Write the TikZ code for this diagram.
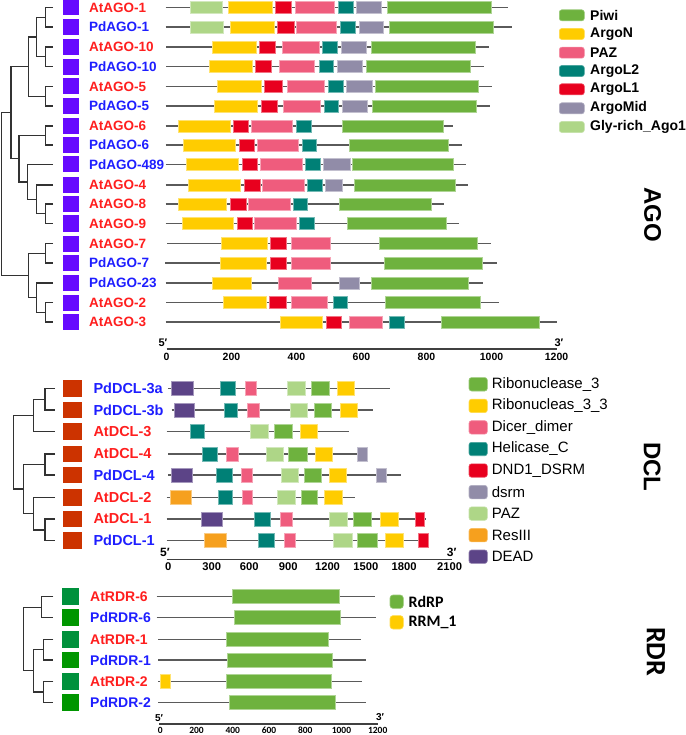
\documentclass[tikz,border=0pt]{standalone}
\usepackage{fontspec}
\setmainfont{Liberation Sans}
\newfontfamily\calib{Carlito}
\definecolor{cPiwi}{RGB}{110,178,62}
\definecolor{cArgoN}{RGB}{255,204,0}
\definecolor{cPAZ}{RGB}{239,92,125}
\definecolor{cL2}{RGB}{0,128,118}
\definecolor{cL1}{RGB}{232,0,30}
\definecolor{cMid}{RGB}{145,140,168}
\definecolor{cGly}{RGB}{174,214,135}
\definecolor{cRes}{RGB}{246,160,30}
\definecolor{cDEAD}{RGB}{92,68,135}
\definecolor{atred}{RGB}{255,30,30}
\definecolor{pdblue}{RGB}{30,30,255}
\definecolor{agosq}{RGB}{102,10,255}
\definecolor{dclsq}{RGB}{204,51,0}
\definecolor{rdrAt}{RGB}{0,145,60}
\definecolor{rdrPd}{RGB}{0,150,0}
\definecolor{treec}{RGB}{50,50,50}
\definecolor{linec}{RGB}{90,90,90}
\newcommand{\hh}{6}
\newcommand{\prot}[4]{%
  \draw[pline] (#2,#1) -- (#3,#1);
  \foreach \a/\b/\c in {#4} {\filldraw[fill=\c, draw=\c!55!white, line width=0.6pt] (\a,#1-\hh) rectangle (\b,#1+\hh);}%
}
\begin{document}
\begin{tikzpicture}[x=1pt,y=-1pt,
  pline/.style={draw=linec, line width=1.3pt},
  tree/.style={draw=treec, line width=1.3pt},
  axisline/.style={draw=black!75, line width=1.2pt},
  glab/.style={anchor=west, inner sep=0pt, font=\fontsize{13.5}{15}\bfseries\selectfont},
  dlab/.style={anchor=west, inner sep=0pt, font=\fontsize{14.5}{16}\bfseries\selectfont},
  rlab/.style={anchor=west, inner sep=0pt, font=\fontsize{14}{16}\bfseries\selectfont},
  agosqs/.style={fill=agosq, minimum width=16.3pt, minimum height=16pt, inner sep=0pt},
  dclsqs/.style={fill=dclsq, minimum width=18.3pt, minimum height=16.7pt, inner sep=0pt},
  rdrsqs/.style={minimum width=17.6pt, minimum height=16.7pt, inner sep=0pt},
  tick/.style={inner sep=0pt, font=\fontsize{10.5}{12}\bfseries\selectfont},
  legbox/.style={rounded corners=2.5pt, draw=#1!70!white, fill=#1, line width=0.6pt},
  legtxt/.style={anchor=west, inner sep=0pt, font=\fontsize{14}{16}\bfseries\selectfont},
  legtxtd/.style={anchor=west, inner sep=0pt, font=\fontsize{15}{17}\selectfont},
  legtxtr/.style={anchor=west, inner sep=0pt, font=\fontsize{16}{18}\calib\bfseries\selectfont},
  sect/.style={rotate=-90, inner sep=0pt, font=\fontsize{24}{26}\bfseries\selectfont}
]
\useasboundingbox (0,0) rectangle (685,735);

% ================= AGO =================
% tree
\draw[tree] (53,7.5) -| (45.7,27) -- (53,27);
\draw[tree] (53,47) -| (45.7,66.7) -- (53,66.7);
\draw[tree] (45.7,17.25) -| (36.7,56.85) -- (45.7,56.85);
\draw[tree] (53,86.5) -| (45.7,106) -- (53,106);
\draw[tree] (36.7,37.05) -| (28.3,96.25) -- (45.7,96.25);
\draw[tree] (53,126) -| (45.7,145) -- (53,145);
\draw[tree] (53,204) -| (45.7,223.5) -- (53,223.5);
\draw[tree] (53,185) -| (36.7,213.75) -- (45.7,213.75);
\draw[tree] (53,164.5) -| (27.5,199.4) -- (36.7,199.4);
\draw[tree] (45.7,135.5) -| (19,181.95) -- (27.5,181.95);
\draw[tree] (28.3,66.65) -| (11,158.7) -- (19,158.7);
\draw[tree] (53,243.5) -| (45.7,263) -- (53,263);
\draw[tree] (53,302.5) -| (45.7,322) -- (53,322);
\draw[tree] (53,283) -| (36.7,312.25) -- (45.7,312.25);
\draw[tree] (45.7,253.25) -| (28.3,297.6) -- (36.7,297.6);
\draw[tree] (11,112.7) -| (1.7,275.4) -- (28.3,275.4);

% squares and labels
\foreach \y/\nm/\lab/\tc in {7.5/a1/AtAGO-1/atred, 27/a2/PdAGO-1/pdblue, 47/a3/AtAGO-10/atred, 66.7/a4/PdAGO-10/pdblue, 86.5/a5/AtAGO-5/atred, 106/a6/PdAGO-5/pdblue, 126/a7/AtAGO-6/atred, 145/a8/PdAGO-6/pdblue, 164.5/a9/PdAGO-489/pdblue, 185/a10/AtAGO-4/atred, 204/a11/AtAGO-8/atred, 223.5/a12/AtAGO-9/atred, 243.5/a13/AtAGO-7/atred, 263/a14/PdAGO-7/pdblue, 283/a15/PdAGO-23/pdblue, 302.5/a16/AtAGO-2/atred, 322/a17/AtAGO-3/atred}
{
  \node[agosqs] (sq\nm) at (71.2,\y) {};
  \node[glab, text=\tc] (lb\nm) at (89,\y) {\lab};
}

% proteins
\prot{7.5}{165.7}{508}{190.3/222/cGly, 228/272/cArgoN, 275.3/291.3/cL1, 295/334.3/cPAZ, 338/353/cL2, 356.7/381/cMid, 387/491/cPiwi}
\prot{27}{165.7}{511.7}{190/223.7/cGly, 230.7/274.3/cArgoN, 277.7/294/cL1, 296/336.7/cPAZ, 340.3/355.3/cL2, 359/383/cMid, 389.7/493.3/cPiwi}
\prot{47}{166.3}{489.3}{212.3/256/cArgoN, 259.7/275.7/cL1, 282/319/cPAZ, 322.3/337.3/cL2, 341/366.3/cMid, 371/475/cPiwi}
\prot{66.7}{166.3}{484.3}{209/252.3/cArgoN, 255.7/271.7/cL1, 279.3/314.3/cPAZ, 319/333.3/cL2, 337/362/cMid, 366.7/470.3/cPiwi}
\prot{86.5}{165.7}{492}{217.7/261/cArgoN, 264.7/282.3/cL1, 287/324.7/cPAZ, 328.3/343/cL2, 346.3/372/cMid, 375/478.7/cPiwi}
\prot{106}{165.7}{490}{214/257.7/cArgoN, 261/277/cL1, 283.7/320.7/cPAZ, 324/338.7/cL2, 342.3/367/cMid, 372.7/476/cPiwi}
\prot{126}{165.7}{453.3}{178.3/230/cArgoN, 233.7/248.7/cL1, 251.7/292/cPAZ, 296/311/cL2, 342.7/443.7/cPiwi}
\prot{145}{165.7}{462}{183.3/235/cArgoN, 239/254.7/cL1, 257/298.3/cPAZ, 302/316.3/cL2, 349/448.7/cPiwi}
\prot{164.5}{165.7}{465.7}{186/238/cArgoN, 242.3/257.7/cL1, 260/302.3/cPAZ, 305.7/320.3/cL2, 323.3/350/cMid, 352.7/453/cPiwi}
\prot{185}{165.7}{468.3}{188/240/cArgoN, 244.7/260/cL1, 262/304.3/cPAZ, 307.7/322.3/cL2, 325.3/342/cMid, 354.3/455/cPiwi}
\prot{204}{165.7}{444.3}{178/226.3/cArgoN, 230.3/246/cL1, 248.3/290/cPAZ, 293.3/307.7/cL2, 339.7/431.7/cPiwi}
\prot{223.5}{165.7}{459.3}{182/233/cArgoN, 237/252.3/cL1, 254.7/296/cPAZ, 299.3/314/cL2, 347/446.3/cPiwi}
\prot{243.5}{167}{490.7}{221/267/cArgoN, 270.3/286.3/cL1, 291/330/cPAZ, 379.7/477/cPiwi}
\prot{263}{165}{496.7}{220/266.7/cArgoN, 270.3/286/cL1, 291/330/cPAZ, 384/482.7/cPiwi}
\prot{283}{165.7}{483.3}{212/251.7/cArgoN, 278.3/311.7/cPAZ, 339.3/359.3/cMid, 371/468/cPiwi}
\prot{302.5}{166.3}{498.7}{223.3/266/cArgoN, 269.7/286/cL1, 291/327/cPAZ, 333/347.7/cL2, 385/480.7/cPiwi}
\prot{322}{165.7}{556.7}{280/322/cArgoN, 326/341.3/cL1, 349/382.7/cPAZ, 389/404/cL2, 441.3/539.3/cPiwi}

% axis
\draw[axisline] (166.5,349) -- (556.5,349);
\node[tick, font=\fontsize{11}{12}\bfseries\selectfont] (ago5) at (163,342.5) {5′};
\node[tick, font=\fontsize{11}{12}\bfseries\selectfont] (ago3) at (559,342.5) {3′};
\foreach \k/\v in {0/0,1/200,2/400,3/600,4/800,5/1000,6/1200}
  \node[tick] (agot\k) at (166.5+65*\k,356.5) {\v};

% legend
\foreach \y/\col/\t [count=\i] in {15.3/cPiwi/Piwi, 34/cArgoN/ArgoN, 52.7/cPAZ/PAZ, 71/cL2/ArgoL2, 89.3/cL1/ArgoL1, 108.3/cMid/ArgoMid, 127/cGly/Gly-rich\_Ago1}
{
  \draw[legbox=\col] (559.3,\y-5.5) rectangle (584.3,\y+5.5);
  \node[legtxt] (agoleg\i) at (590,\y) {\t};
}
\node[sect] (agotitle) at (652.5,215) {AGO};

% ================= DCL =================
\renewcommand{\hh}{7}
\draw[tree] (55,388.3) -| (45,410) -- (55,410);
\draw[tree] (45,399.15) -| (33.3,431.7) -- (55,431.7);
\draw[tree] (55,454) -| (45,475) -- (55,475);
\draw[tree] (55,519) -| (45,540.7) -- (55,540.7);
\draw[tree] (55,497.3) -| (33.3,529.85) -- (45,529.85);
\draw[tree] (45,464.5) -| (23.3,513.6) -- (33.3,513.6);
\draw[tree] (33.3,415.4) -| (13.3,489) -- (23.3,489);

\foreach \y/\nm/\lab/\tc in {388.3/d1/PdDCL-3a/pdblue, 410/d2/PdDCL-3b/pdblue, 431.7/d3/AtDCL-3/atred, 454/d4/AtDCL-4/atred, 475/d5/PdDCL-4/pdblue, 497.3/d6/AtDCL-2/atred, 519/d7/AtDCL-1/atred, 540.7/d8/PdDCL-1/pdblue}
{
  \node[dclsqs] (sq\nm) at (72.5,\y) {};
  \node[dlab, text=\tc] (lb\nm) at (93.3,\y) {\lab};
}

\prot{388.3}{168.3}{390}{171.7/193.3/cDEAD, 220/235/cL2, 245/256/cPAZ, 287.3/305/cGly, 311/329/cPiwi, 337/354.3/cArgoN}
\prot{410}{171.7}{372.7}{174/194/cDEAD, 224.3/237.7/cL2, 247.7/259/cPAZ, 290/307.7/cGly, 314/331.7/cPiwi, 340/357.3/cArgoN}
\prot{431.7}{166.7}{349.3}{190/204/cL2, 250.7/268.3/cGly, 274/292/cPiwi, 300/317.3/cArgoN}
\prot{454}{168.3}{368.3}{202.3/217.7/cL2, 226.3/238/cPAZ, 266.7/283.3/cGly, 288.7/307/cPiwi, 315/332.3/cArgoN, 357.3/367/cMid}
\prot{475}{168.3}{400.7}{171/192.7/cDEAD, 216.7/232/cL2, 241.3/252/cPAZ, 281.3/298/cGly, 304/321.3/cPiwi, 329.3/346.7/cArgoN, 376.7/386/cMid}
\prot{497.3}{166.7}{355}{170/191.7/cRes, 218/232.7/cL2, 242/252.7/cPAZ, 277.3/295.7/cGly, 301.7/317.3/cPiwi, 324/342.7/cArgoN}
\prot{519}{166.7}{426}{201/222.3/cDEAD, 254.7/270/cL2, 280.7/292.3/cPAZ, 329.3/347.7/cGly, 353.3/371.7/cPiwi, 380/398.3/cArgoN, 415/424.3/cL1}
\prot{540.7}{166.7}{429.3}{204.3/226.7/cRes, 258.3/274/cL2, 284.3/295.7/cPAZ, 333.3/352/cGly, 357.3/377.3/cPiwi, 385/403/cArgoN, 418.7/428.3/cL1}

\draw[axisline] (166.7,559.3) -- (451.7,559.3);
\node[tick, font=\fontsize{12}{13}\bfseries\selectfont] (dcl5) at (165,552.3) {5′};
\node[tick, font=\fontsize{12}{13}\bfseries\selectfont] (dcl3) at (451.7,552.3) {3′};
\foreach \x/\v [count=\i] in {168.3/0, 211.7/300, 249.2/600, 288.3/900, 327.5/1200, 365.8/1500, 404.2/1800, 449.7/2100}
  \node[tick, font=\fontsize{11.2}{12}\bfseries\selectfont] (dclt\i) at (\x,567) {\v};

\foreach \y/\col/\t [count=\i] in {384.3/cPiwi/Ribonuclease\_3, 405.9/cArgoN/Ribonucleas\_3\_3, 427.4/cPAZ/Dicer\_dimer, 449/cL2/Helicase\_C, 470.5/cL1/DND1\_DSRM, 492.1/cMid/dsrm, 513.6/cGly/PAZ, 535.2/cRes/ResIII, 556.7/cDEAD/DEAD}
{
  \draw[legbox=\col] (469,\y-6.7) rectangle (487.3,\y+6.7);
  \node[legtxtd] (dclleg\i) at (491.7,\y) {\t};
}
\node[sect] (dcltitle) at (652,467) {DCL};

% ================= RDR =================
\renewcommand{\hh}{7}
\draw[tree] (53.3,596.7) -| (41.7,617.7) -- (53.3,617.7);
\draw[tree] (53.3,639.3) -| (43.3,660) -- (53.3,660);
\draw[tree] (53.3,681.7) -| (43.3,702.3) -- (53.3,702.3);
\draw[tree] (43.3,649.65) -| (33.3,692) -- (43.3,692);
\draw[tree] (41.7,607.2) -| (23.3,670.8) -- (33.3,670.8);

\foreach \y/\nm/\lab/\tc/\sc in {596.7/r1/AtRDR-6/atred/rdrAt, 617.7/r2/PdRDR-6/pdblue/rdrPd, 639.3/r3/AtRDR-1/atred/rdrAt, 660/r4/PdRDR-1/pdblue/rdrPd, 681.7/r5/AtRDR-2/atred/rdrAt, 702.3/r6/PdRDR-2/pdblue/rdrPd}
{
  \node[rdrsqs, fill=\sc] (sq\nm) at (70.5,\y) {};
  \node[rlab, text=\tc] (lb\nm) at (90,\y) {\lab};
}

\prot{596.7}{156.7}{375}{232.7/339/cPiwi}
\prot{617.7}{156.7}{376}{234/340/cPiwi}
\prot{639.3}{158.3}{361}{226.7/328.3/cPiwi}
\prot{660}{158.3}{366}{227.3/332/cPiwi}
\prot{681.7}{158.3}{362.3}{160.7/170.3/cArgoN, 226.7/331.7/cPiwi}
\prot{702.3}{158.3}{366}{229.7/335/cPiwi}

\draw[axisline] (159,724) -- (378,724);
\node[tick, font=\fontsize{10}{11}\bfseries\selectfont] (rdr5) at (159,718) {5′};
\node[tick, font=\fontsize{10}{11}\bfseries\selectfont] (rdr3) at (380,717) {3′};
\foreach \k/\v in {0/0,1/200,2/400,3/600,4/800,5/1000,6/1200}
  \node[tick, font=\fontsize{9.5}{10}\calib\bfseries\selectfont] (rdrt\k) at (160.3+36.23*\k,730.5) {\v};

\foreach \y/\col/\t [count=\i] in {601.7/cPiwi/RdRP, 622.3/cArgoN/RRM\_1}
{
  \draw[legbox=\col, rounded corners=3pt] (390,\y-6.7) rectangle (403.3,\y+6.7);
  \node[legtxtr] (rdrleg\i) at (408.3,\y) {\t};
}
\node[sect, font=\fontsize{28}{30}\calib\bfseries\selectfont] (rdrtitle) at (656,651.7) {RDR};
\end{tikzpicture}
\end{document}
